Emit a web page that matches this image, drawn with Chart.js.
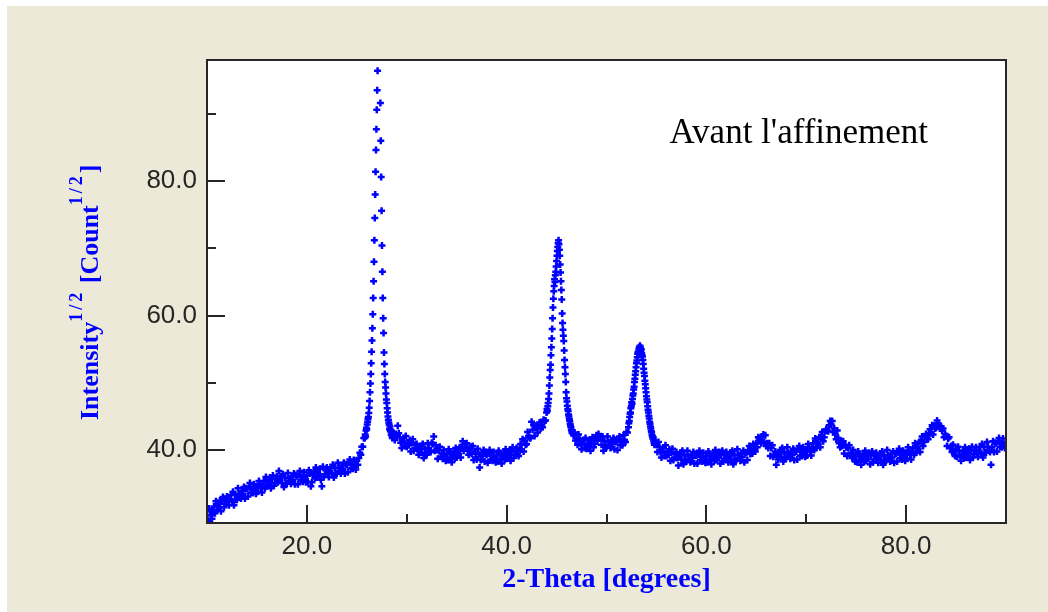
<!DOCTYPE html>
<html>
<head>
<meta charset="utf-8">
<title>Avant l'affinement</title>
<script src="https://cdn.jsdelivr.net/npm/chart.js@4.4.0/dist/chart.umd.min.js"></script>
<style>
  html, body { margin: 0; padding: 0; background: #ffffff; }
  #wrap { width: 1048px; height: 612px; }
</style>
</head>
<body>
<div id="wrap"><canvas id="xrd" width="1048" height="612"></canvas></div>
<script>
// Diffractogram, sqrt(counts) against 2-theta.
// The scan is stored as segments: each has a start angle, a step and its readings.
// Peaks were recorded with a finer step than the background.

const scanStarts = [10.0, 25.80, 28.7, 44.00, 46.7, 52.20, 54.9];
const scanSteps  = [0.1,  0.04,  0.1,  0.04,  0.1,  0.04,  0.1];

// 10.0 - 25.7
const bgLow = [
  30.3, 29.5, 31.3, 30.9, 30.3, 29.8, 31.0, 31.6, 30.6, 32.4,
  31.0, 31.8, 31.5, 32.5, 30.9, 32.4, 33.0, 31.5, 32.0, 32.7,
  33.1, 32.3, 31.8, 32.7, 33.3, 32.4, 33.8, 31.8, 33.3, 32.6,
  32.6, 34.3, 33.5, 33.1, 32.8, 33.9, 33.5, 34.5, 32.8, 34.3,
  34.2, 33.1, 34.5, 35.1, 33.7, 34.2, 33.6, 34.9, 34.1, 33.5,
  34.6, 33.8, 35.4, 35.0, 34.3, 33.7, 34.8, 35.4, 34.3, 36.0,
  34.6, 35.3, 35.0, 35.9, 34.3, 35.7, 36.2, 34.7, 35.1, 35.7,
  36.1, 35.2, 36.9, 35.6, 36.1, 35.1, 36.4, 34.5, 35.9, 35.1,
  35.0, 36.6, 35.8, 35.4, 35.0, 36.1, 35.6, 36.5, 34.9, 36.3,
  36.1, 34.9, 36.3, 36.9, 35.5, 36.0, 35.3, 36.7, 35.8, 35.2,
  36.2, 35.3, 37.0, 36.5, 34.6, 35.2, 36.3, 36.8, 35.8, 37.4,
  35.9, 36.6, 36.3, 37.2, 35.6, 34.6, 37.5, 36.0, 36.4, 37.0,
  37.4, 36.5, 36.0, 36.9, 37.4, 36.5, 37.8, 35.9, 37.3, 36.5,
  36.5, 38.1, 37.4, 36.9, 36.5, 37.7, 37.2, 38.1, 36.5, 37.9,
  37.8, 36.7, 38.1, 38.6, 37.3, 37.8, 37.2, 38.5, 37.7, 37.1,
  38.4, 37.8, 38.8, 39.6, 39.3, 40.5, 40.5, 41.8
];

// 25.80 - 28.60
const peak27 = [
  41.8, 42.3, 42.0, 42.9, 43.3, 43.1, 43.8, 44.2, 44.6, 44.9,
  45.5, 46.3, 47.3, 48.6, 49.9, 51.3, 52.9, 54.6, 56.3, 58.1,
  60.2, 62.6, 65.1, 68.0, 71.2, 74.5, 78.0, 81.4, 84.6, 87.7,
  90.6, 93.5, 96.4, 100.3, 104.8, 109.0, 111.5, 108.6, 100.9, 91.6,
  86.0, 80.6, 75.6, 70.4, 66.5, 62.6, 59.6, 57.4, 54.5, 52.8,
  51.3, 50.1, 49.3, 48.4, 47.5, 47.0, 46.2, 45.6, 45.0, 44.5,
  44.1, 43.8, 43.1, 43.5, 42.8, 43.0, 42.3, 42.7, 42.1, 41.8,
  42.3
];

// 28.7 - 43.9
const bgMid = [
  42.5, 41.5, 42.4,
  42.0, 43.6, 42.5, 41.9, 41.1, 40.3, 41.3, 41.8, 40.6, 42.1,
  40.5, 41.1, 40.7, 41.5, 39.8, 41.1, 41.6, 39.9, 40.3, 40.8,
  40.9, 40.0, 39.3, 40.2, 40.6, 39.6, 40.9, 38.8, 40.2, 39.4,
  39.3, 41.0, 40.3, 39.9, 39.7, 41.1, 40.9, 42.0, 39.9, 40.7,
  40.0, 38.7, 40.0, 40.5, 39.0, 39.5, 38.7, 40.0, 39.1, 38.4,
  39.4, 38.5, 40.1, 39.6, 38.9, 38.2, 39.3, 39.8, 38.7, 40.3,
  38.9, 39.7, 39.4, 40.4, 38.9, 40.5, 41.3, 39.9, 40.4, 40.9,
  41.0, 40.0, 39.3, 40.1, 40.5, 39.4, 40.6, 38.5, 39.8, 38.9,
  38.6, 40.2, 39.4, 37.4, 38.5, 39.6, 39.1, 40.0, 38.3, 39.7,
  39.3, 38.1, 39.5, 40.0, 38.6, 39.1, 38.4, 39.7, 38.8, 38.2,
  39.2, 38.3, 39.9, 39.4, 38.7, 38.0, 39.1, 39.6, 38.5, 40.1,
  38.7, 39.4, 39.1, 40.0, 38.4, 39.8, 40.4, 38.8, 39.3, 39.9,
  40.3, 39.5, 39.1, 40.2, 40.9, 40.1, 41.6, 39.8, 41.4, 40.8,
  40.9, 42.7, 42.1, 41.8, 41.8, 44.2, 43.0, 43.7, 42.1, 43.6,
  43.4, 42.6, 43.7, 44.1, 43.2, 43.7, 43.4, 44.5, 44.3, 44.4
];

// 44.00 - 46.60
const peak45 = [
  45.6, 46.1, 45.8, 46.5, 47.0, 47.6, 48.4, 49.6, 50.8, 51.9,
  52.7, 54.1, 55.3, 56.6, 58.0, 59.6, 61.2, 62.5, 63.6, 64.4,
  65.4, 65.0, 66.0, 66.5, 67.3, 68.1, 68.9, 69.6, 70.2, 70.8,
  71.2, 70.6, 69.8, 68.9, 67.6, 66.4, 65.1, 63.8, 62.4, 60.3,
  58.9, 57.9, 57.0, 56.2, 54.8, 53.4, 52.3, 51.3, 50.1, 48.6,
  47.7, 47.2, 46.6, 46.1, 45.8, 45.3, 45.0, 44.6, 44.3, 43.9,
  43.6, 43.4, 43.0, 42.8, 42.5, 42.7
];

// 46.7 - 52.1
const bgBetween = [
  42.2, 42.6, 41.4,
  41.8, 40.8, 42.3, 41.7, 40.9, 40.1, 41.1, 41.5, 40.3, 41.8,
  40.2, 40.9, 40.6, 41.5, 39.9, 41.3, 41.9, 40.4, 40.9, 41.7,
  42.2, 41.5, 42.4, 41.7, 42.0, 40.8, 42.0, 39.9, 41.3, 40.5,
  40.4, 42.0, 41.2, 40.7, 40.3, 41.4, 40.9, 41.8, 40.1, 41.5,
  41.2, 40.0, 41.5, 42.0, 40.7, 41.3, 40.7, 42.2, 41.5, 41.2,
  42.7, 42.6
];

// 52.20 - 54.80
const peak53 = [
  43.4, 44.0, 44.3, 44.9, 45.4, 45.6, 46.2, 46.5, 47.1, 46.9,
  47.6, 48.1, 48.4, 49.0, 49.4, 50.1, 50.6, 51.2, 51.7, 52.3,
  52.9, 53.3, 53.8, 54.3, 54.6, 54.5, 55.0, 55.3, 55.1, 55.5,
  55.2, 54.7, 55.0, 54.4, 54.1, 53.9, 53.4, 52.8, 52.1, 51.5,
  51.0, 50.3, 49.8, 49.2, 48.6, 48.0, 47.5, 47.1, 46.5, 46.0,
  45.6, 45.1, 44.7, 44.2, 43.9, 43.5, 43.2, 42.8, 42.6, 42.2,
  42.0, 41.7, 41.9, 41.4, 41.1, 40.8
];

// 54.9 - 90.0
const bgHigh = [
  41.2,
  40.8, 39.7, 41.2, 40.5, 39.7, 38.9, 39.9, 40.3, 39.1, 40.7,
  39.1, 39.7, 39.3, 40.1, 38.4, 39.7, 40.2, 38.5, 38.9, 39.4,
  39.7, 38.8, 37.7, 39.1, 39.6, 38.6, 39.9, 37.9, 39.3, 38.5,
  38.3, 39.9, 39.1, 38.6, 38.2, 39.3, 38.8, 39.7, 38.0, 39.4,
  39.2, 38.0, 39.4, 39.9, 38.5, 39.0, 38.3, 39.6, 38.7, 38.1,
  39.1, 38.2, 39.8, 39.3, 38.6, 37.9, 39.0, 39.5, 38.4, 40.0,
  38.5, 39.2, 38.8, 39.7, 38.0, 39.4, 39.9, 38.3, 38.7, 39.3,
  39.7, 38.8, 38.2, 39.1, 39.6, 38.6, 39.9, 37.9, 39.3, 38.5,
  38.5, 40.1, 39.3, 38.8, 38.4, 39.5, 39.0, 39.9, 38.2, 39.6,
  39.6, 38.5, 40.0, 40.6, 39.4, 40.0, 39.5, 40.9, 40.2, 39.8,
  41.0, 40.4, 41.9, 41.7, 41.4, 41.0, 42.0, 42.3, 41.2, 42.2,
  40.6, 41.0, 40.3, 41.0, 39.1, 40.3, 40.7, 39.0, 39.3, 39.8,
  37.8, 39.2, 38.6, 39.5, 40.0, 39.0, 40.3, 38.3, 39.7, 38.9,
  38.8, 40.4, 39.6, 39.1, 38.7, 39.8, 39.3, 40.2, 38.5, 39.9,
  39.8, 38.6, 40.1, 40.6, 39.2, 39.8, 39.1, 40.4, 39.6, 39.0,
  40.1, 39.2, 40.9, 40.4, 39.8, 39.2, 40.4, 41.0, 40.0, 41.7,
  40.3, 41.1, 40.9, 41.9, 40.4, 42.0, 42.7, 41.3, 41.9, 42.8,
  43.1, 42.9, 42.8, 43.7, 44.3, 43.8, 44.3, 42.7, 43.2, 42.3,
  41.6, 42.9, 41.8, 41.0, 40.4, 41.3, 40.6, 41.3, 39.5, 40.8,
  40.4, 39.1, 40.3, 40.7, 39.2, 39.6, 38.8, 40.0, 39.0, 38.3,
  39.2, 38.2, 39.8, 39.2, 38.5, 37.8, 38.9, 39.4, 38.3, 39.9,
  38.4, 39.1, 38.7, 39.6, 37.9, 39.3, 39.8, 38.2, 38.6, 39.2,
  39.6, 38.7, 38.1, 39.0, 39.5, 38.5, 39.8, 37.8, 39.2, 38.4,
  38.4, 40.0, 39.2, 38.7, 38.3, 39.4, 38.9, 39.8, 38.1, 39.5,
  39.5, 38.3, 39.7, 40.2, 38.8, 39.3, 38.6, 39.9, 39.0, 38.4,
  39.6, 38.7, 40.4, 39.9, 39.3, 38.6, 39.8, 40.3, 39.3, 41.0,
  39.6, 40.4, 40.2, 41.2, 39.7, 41.3, 42.0, 40.6, 41.2, 42.0,
  42.4, 41.8, 41.6, 42.5, 43.1, 42.5, 43.7, 42.3, 43.6, 43.2,
  43.3, 44.4, 44.0, 43.6, 43.2, 43.5, 42.9, 43.2, 41.9, 42.4,
  42.1, 40.6, 41.7, 41.9, 40.3, 40.6, 39.7, 40.8, 39.8, 39.1,
  40.0, 39.0, 40.5, 39.9, 39.1, 38.4, 39.4, 39.9, 38.8, 40.4,
  38.9, 39.6, 39.2, 40.2, 38.5, 39.9, 40.5, 38.9, 39.4, 40.0,
  40.4, 39.5, 39.0, 39.9, 40.5, 39.5, 40.9, 38.9, 40.4, 39.6,
  39.6, 41.2, 40.5, 40.0, 39.7, 37.8, 40.4, 41.3, 39.7, 41.1,
  41.0, 39.8, 41.3, 41.8, 40.5, 41.0, 40.4, 41.7, 40.9, 40.3,
  41.0
];

const scanCounts = [bgLow, peak27, bgMid, peak45, bgBetween, peak53, bgHigh];

// axes
const xRange = [10, 90];
const yRange = [29.15, 98];
const xTickLabels = [20, 40, 60, 80];
const xMinorTicks = [30, 50, 70];
const yTickLabels = [40, 60, 80];
const yMinorTicks = [50, 70, 90];

const xTitle = '2-Theta [degrees]';
const yTitleParts = [['Intensity', false], ['1/2', true], [' [Count', false], ['1/2', true], [']', false]];
const noteText = "Avant l'affinement";

const points = [];
scanCounts.forEach(function (vals, s) {
  vals.forEach(function (v, i) {
    points.push({ x: +(scanStarts[s] + i * scanSteps[s]).toFixed(2), y: v });
  });
});

const BLUE = '#0000ff';
const INK = '#262626';
const PANEL = '#ece9d8';
const SERIF = "'Liberation Serif', 'Times New Roman', serif";
const SANS = "'Liberation Sans', Arial, sans-serif";

const framePlugin = {
  id: 'frame',
  beforeDraw(chart) {
    const ctx = chart.ctx;
    const a = chart.chartArea;
    ctx.save();
    ctx.fillStyle = PANEL;
    ctx.fillRect(7, 6, chart.width - 7, chart.height - 6);
    ctx.fillStyle = '#ffffff';
    ctx.fillRect(a.left, a.top, a.right - a.left, a.bottom - a.top);
    ctx.restore();
  },
  afterDatasetsDraw(chart) {
    const ctx = chart.ctx;
    const a = chart.chartArea;
    const xs = chart.scales.x, ys = chart.scales.y;
    ctx.save();

    // inward tick marks
    ctx.strokeStyle = INK;
    ctx.lineWidth = 2;
    ctx.beginPath();
    xTickLabels.concat(xMinorTicks).forEach(function (v) {
      const px = Math.round(xs.getPixelForValue(v));
      const len = xTickLabels.includes(v) ? 18 : 9;
      ctx.moveTo(px, a.bottom);
      ctx.lineTo(px, a.bottom - len);
    });
    yTickLabels.concat(yMinorTicks).forEach(function (v) {
      const py = Math.round(ys.getPixelForValue(v));
      const len = yTickLabels.includes(v) ? 18 : 9;
      ctx.moveTo(a.left, py);
      ctx.lineTo(a.left + len, py);
    });
    ctx.stroke();

    // plot frame
    ctx.strokeRect(a.left, a.top, a.right - a.left, a.bottom - a.top);

    // x title
    ctx.fillStyle = BLUE;
    ctx.font = 'bold 28px ' + SERIF;
    ctx.textAlign = 'center';
    ctx.textBaseline = 'alphabetic';
    ctx.fillText(xTitle, (a.left + a.right) / 2, 587);

    // y title, rotated, with superscripts
    ctx.translate(98, 420);
    ctx.rotate(-Math.PI / 2);
    ctx.textAlign = 'left';
    let pos = 0;
    yTitleParts.forEach(function (part) {
      if (part[1]) {
        ctx.font = 'bold 18px ' + SERIF;
        for (const ch of part[0]) {
          ctx.fillText(ch, pos, -16);
          pos += ctx.measureText(ch).width + 3;
        }
      } else {
        ctx.font = 'bold 26px ' + SERIF;
        ctx.fillText(part[0], pos, 0);
        pos += ctx.measureText(part[0]).width;
      }
    });
    ctx.restore();

    // annotation inside the plot
    ctx.save();
    ctx.fillStyle = '#000000';
    ctx.font = '35px ' + SERIF;
    ctx.textAlign = 'left';
    ctx.textBaseline = 'alphabetic';
    ctx.fillText(noteText, xs.getPixelForValue(56.3), ys.getPixelForValue(85.6));
    ctx.restore();
  }
};

new Chart(document.getElementById('xrd'), {
  type: 'scatter',
  data: {
    datasets: [{
      data: points,
      pointStyle: 'cross',
      pointRadius: 3.5,
      pointBorderWidth: 2.5,
      borderColor: BLUE,
      backgroundColor: BLUE,
      showLine: false,
      clip: 0
    }]
  },
  options: {
    responsive: false,
    animation: false,
    devicePixelRatio: 1,
    events: [],
    layout: { padding: { top: 60, right: 42, left: 0, bottom: 0 } },
    plugins: { legend: { display: false }, tooltip: { enabled: false } },
    scales: {
      x: {
        type: 'linear',
        min: xRange[0],
        max: xRange[1],
        grid: { display: false, drawTicks: false },
        border: { display: false },
        afterBuildTicks: function (s) { s.ticks = xTickLabels.map(function (v) { return { value: v }; }); },
        afterFit: function (s) { s.height = 89; },
        ticks: {
          autoSkip: false,
          maxRotation: 0,
          padding: 8,
          color: INK,
          font: { family: SANS, size: 26 },
          callback: function (v) { return Number(v).toFixed(1); }
        }
      },
      y: {
        type: 'linear',
        min: yRange[0],
        max: yRange[1],
        grid: { display: false, drawTicks: false },
        border: { display: false },
        afterBuildTicks: function (s) { s.ticks = yTickLabels.map(function (v) { return { value: v }; }); },
        afterFit: function (s) { s.width = 207; },
        ticks: {
          autoSkip: false,
          padding: 10,
          color: INK,
          font: { family: SANS, size: 26 },
          callback: function (v) { return Number(v).toFixed(1); }
        }
      }
    }
  },
  plugins: [framePlugin]
});
</script>
</body>
</html>
